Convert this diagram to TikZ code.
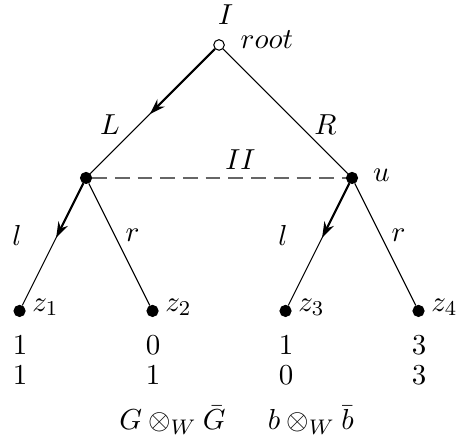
\documentclass[tikz,border=0pt]{standalone}
\usetikzlibrary{calc,arrows.meta}

\begin{document}
\begin{tikzpicture}[
    x=1.77cm, y=1.77cm,
    root node/.style={circle, draw=black, fill=white, thin, inner sep=0pt, minimum size=4pt},
    play node/.style={circle, draw=black, fill=black, inner sep=0pt, minimum size=4.2pt},
    branch/.style={draw=black, line width=0.4pt},
    move/.style={draw=black, line width=0.8pt, -{Stealth[length=6pt,width=4pt]}},
    info set/.style={draw=black!60, line width=0.5pt, dash pattern=on 5.6pt off 3pt},
    lbl/.style={font=\fontsize{11.4}{14}\selectfont, inner sep=0pt}
]
\useasboundingbox (-1.647,0.338) rectangle (1.782,-2.985);

% decision nodes
\node[root node] (I) at (0, 0) {};
\node[play node] (A) at (-1, -1) {};
\node[play node] (u) at (1, -1) {};

% terminal nodes
\node[play node] (z1) at (-1.5, -2) {};
\node[play node] (z2) at (-0.5, -2) {};
\node[play node] (z3) at (0.5, -2) {};
\node[play node] (z4) at (1.5, -2) {};

% branches
\draw[info set] (A) -- (u);
\draw[branch] (I) -- (A);
\draw[branch] (I) -- (u);
\draw[branch] (A) -- (z1);
\draw[branch] (A) -- (z2);
\draw[branch] (u) -- (z3);
\draw[branch] (u) -- (z4);

% chosen moves
\draw[move] (I) -- ($(I)!0.52!(A)$);
\draw[move] (A) -- ($(A)!0.45!(z1)$);
\draw[move] (u) -- ($(u)!0.45!(z3)$);

% labels
\node[lbl] (tI) at (0.05, 0.225) {$I$};
\node[lbl] (troot) at (0.36, 0.04) {$root$};
\node[lbl] (tL) at (-0.82, -0.6) {$L$};
\node[lbl] (tR) at (0.8, -0.6) {$R$};
\node[lbl] (tII) at (0.16, -0.86) {$II$};
\node[lbl] (tu) at (1.22, -0.98) {$u$};
\node[lbl] (tl1) at (-1.52, -1.43) {$l$};
\node[lbl] (tr1) at (-0.65, -1.43) {$r$};
\node[lbl] (tl2) at (0.48, -1.43) {$l$};
\node[lbl] (tr2) at (1.35, -1.43) {$r$};
\foreach \k/\x in {1/-1.5, 2/-0.5, 3/0.5, 4/1.5}
  \node[lbl] (tz\k) at (\x+0.195, -1.97) {$z_\k$};

% payoffs
\foreach \x/\p/\q in {-1.5/1/1, -0.5/0/1, 0.5/1/0, 1.5/3/3} {
  \node[lbl] at (\x+0.005, -2.26) {$\p$};
  \node[lbl] at (\x+0.005, -2.485) {$\q$};
}

\node[lbl] (g1) at (-0.35, -2.82) {$G\otimes_W\bar{G}$};
\node[lbl] (g2) at (0.69, -2.82) {$b\otimes_W\bar{b}$};

\end{tikzpicture}
\end{document}
